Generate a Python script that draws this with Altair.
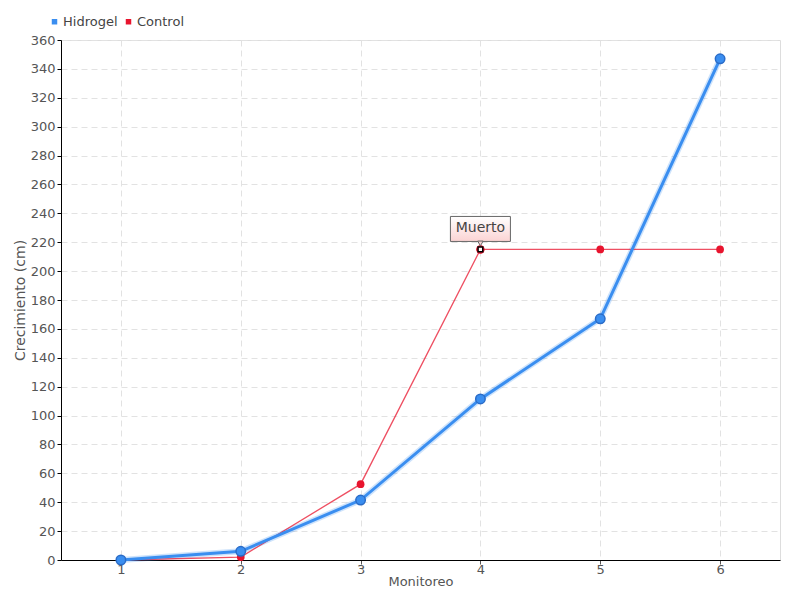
import altair as alt
import pandas as pd

monitoreo = [1, 2, 3, 4, 5, 6]
hidrogel = [0, 6, 41.5, 111.5, 167, 347]
control = [0, 2, 52.5, 215, 215, 215]
series_names = ["Hidrogel", "Control"]
series_colors = ["#3a8ef0", "#e8142e"]
annot_x = [4]
annot_y = [215]
annot_text = ["Muerto"]

FONT = "DejaVu Sans"

rows = []
for m, h, c in zip(monitoreo, hidrogel, control):
    rows.append({"Monitoreo": m, "Crecimiento": h, "Serie": "Hidrogel"})
    rows.append({"Monitoreo": m, "Crecimiento": c, "Serie": "Control"})
df = pd.DataFrame(rows)
dh = df[df.Serie == "Hidrogel"]
dc = df[df.Serie == "Control"]
ann = pd.DataFrame({"Monitoreo": annot_x, "Crecimiento": annot_y, "label": annot_text})

xs = alt.Scale(domain=[0.5, 6.5], nice=False, zero=False)
ys = alt.Scale(domain=[0, 360], nice=False)
cs = alt.Scale(domain=series_names, range=series_colors)

LEG = alt.Legend(orient="none", legendX=-13, legendY=-25,
                 direction="horizontal", title=None,
                 symbolType="square", symbolSize=30,
                 symbolOpacity=1, labelFontSize=13,
                 labelColor="#444", labelFont=FONT,
                 columnPadding=4, symbolStrokeWidth=0,
                 labelOffset=2)
C = alt.Color("Serie:N", scale=cs, legend=LEG)

X = alt.X("Monitoreo:Q", scale=xs,
          axis=alt.Axis(values=monitoreo, title="Monitoreo", format="d",
                        gridDash=[6, 4], gridColor="#e2e2e2", tickColor="#555",
                        tickSize=4, domainColor="#000", labelFontSize=13,
                        labelColor="#555", titleFontSize=13, titleColor="#555",
                        titleFontWeight="normal", labelFont=FONT, titleFont=FONT,
                        labelPadding=-1, titlePadding=-1))
Y = alt.Y("Crecimiento:Q", scale=ys,
          axis=alt.Axis(values=list(range(0, 361, 20)), title="Crecimiento (cm)",
                        gridDash=[6, 4], gridColor="#e2e2e2", tickColor="#000",
                        tickSize=4, domainColor="#000", labelFontSize=13,
                        labelColor="#555", titleFontSize=14, titleColor="#555",
                        titleFontWeight="normal", labelFont=FONT, titleFont=FONT,
                        labelPadding=2, titlePadding=3))

glow = alt.Chart(dh).mark_line(strokeWidth=6, opacity=0.25, color="#3a8ef0").encode(
    x=X, y=Y)
hline = alt.Chart(dh).mark_line(strokeWidth=3).encode(x=X, y=Y, color=C)
hpts = alt.Chart(dh).mark_point(filled=True, size=90, stroke="#2a6cc8",
                                strokeWidth=1.5, opacity=1).encode(x=X, y=Y, color=C)
cline = alt.Chart(dc).mark_line(strokeWidth=1.3, opacity=0.75).encode(x=X, y=Y, color=C)
cpts = alt.Chart(dc).mark_point(filled=True, size=60, opacity=1).encode(x=X, y=Y, color=C)

dead_ring = alt.Chart(ann).mark_point(filled=True, size=70, color="#e8142e", opacity=1).encode(
    x=X, y=Y)
dead_sq = alt.Chart(ann).mark_point(shape="square", filled=True, size=22, fill="white",
                                    stroke="black", strokeWidth=1.5, opacity=1).encode(
    x=X, y=Y)

box = alt.Chart(ann).mark_rect(
    fill=alt.Gradient(gradient="linear", x1=0, y1=0, x2=0, y2=1,
                      stops=[alt.GradientStop(color="#ffffff", offset=0),
                             alt.GradientStop(color="#fbd3d3", offset=1)]),
    stroke="#666", strokeWidth=1,
    xOffset=-30, x2Offset=30, yOffset=-33, y2Offset=-8).encode(
    x=X, x2="Monitoreo:Q", y=Y, y2="Crecimiento:Q")
pointer = alt.Chart(ann).mark_point(shape="triangle-down", filled=True, size=30,
                                    fill="#fbd3d3", stroke="#666", strokeWidth=1,
                                    yOffset=-6, opacity=1).encode(x=X, y=Y)
btext = alt.Chart(ann).mark_text(fontSize=14, color="#444", font=FONT, dy=-21).encode(
    x=X, y=Y, text="label:N")

chart = alt.layer(glow, cline, hline, cpts, hpts, dead_ring, dead_sq,
                  box, pointer, btext).properties(
    width=719, height=520,
    autosize=alt.AutoSizeParams(type="none"),
    padding={"left": 53, "top": 32, "right": 12, "bottom": 40},
).configure_view(stroke=None).configure(font=FONT)

chart.save("out.html", embed_options={"renderer": "svg", "actions": False})
